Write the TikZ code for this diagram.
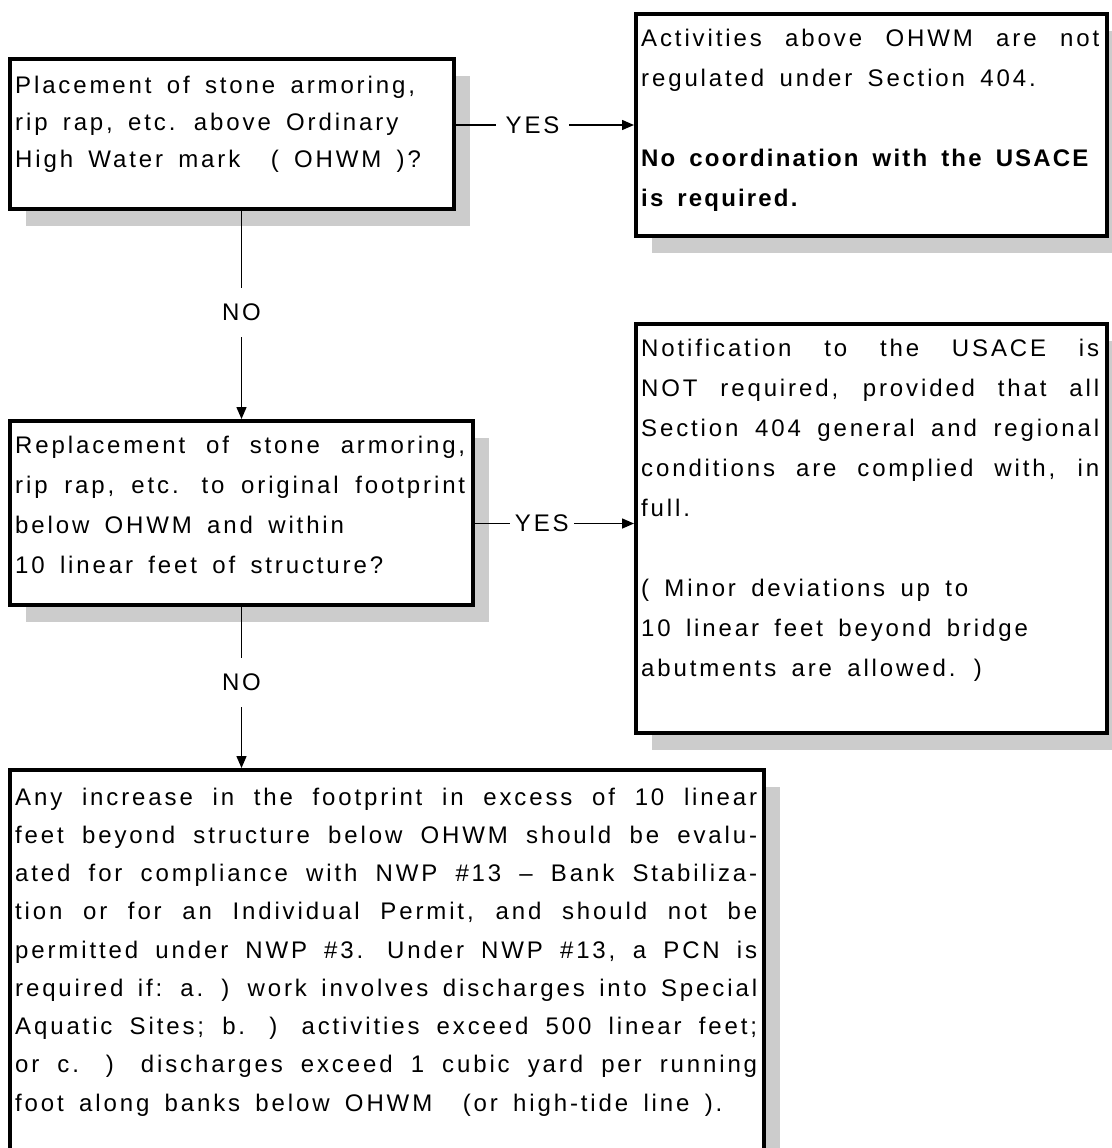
\documentclass[tikz,border=0pt]{standalone}
\usepackage{fontspec}
\setmainfont{Liberation Sans}[LetterSpace=12, WordSpace=1.6, BoldFeatures={LetterSpace=9}]
\usetikzlibrary{arrows.meta,shadows,positioning}

\tikzset{
  flowbox/.style={draw, line width=4pt, fill=white, anchor=north west, inner sep=0pt,
    drop shadow={shadow xshift=16pt, shadow yshift=-17pt, fill=black!20, opacity=1}},
  boxtext/.style={anchor=north west, inner xsep=7pt, inner ysep=16.5pt, align=justify,
    font=\fontsize{24}{40}\selectfont},
  conn/.style={line width=1.5pt},
  arr/.style={conn, -{Triangle[length=12pt,width=10pt]}},
  lbl/.style={fill=white, inner xsep=10pt, inner ysep=16pt, font=\fontsize{24}{28}\selectfont}
}

\begin{document}
\begin{tikzpicture}[x=1pt,y=-1pt]
\useasboundingbox (0,0) rectangle (1111,1148);
\fill[white] (0,0) rectangle (1111,1148);

% question boxes
\node[flowbox, minimum width=444pt, minimum height=150pt] (q1) at (8,57) {};
\node[flowbox, minimum width=463pt, minimum height=184pt] (q2) at (8,419) {};
% answer boxes
\node[flowbox, minimum width=471pt, minimum height=222pt] (a1) at (634,12) {};
\node[flowbox, minimum width=471pt, minimum height=409pt] (a2) at (634,322) {};
\node[flowbox, minimum width=754pt, minimum height=384pt] (a3) at (8,768) {};

% texts
\node[boxtext, text width=430pt, inner ysep=18.5pt, font=\fontsize{24}{37}\selectfont] (q1t) at (q1.north west)
  {Placement of stone armoring,\\ rip rap, etc. above Ordinary\\ High Water mark~~(~OHWM~)?};
\node[boxtext, text width=450pt] (q2t) at (q2.north west)
  {Replacement of stone armoring, \linebreak rip rap, etc. to original footprint \linebreak below OHWM and within\\ 10 linear feet of structure?};
\node[boxtext, text width=458pt] (a1t) at (a1.north west)
  {Activities above OHWM are not \linebreak regulated under Section 404.\\ \mbox{}\\
   \textbf{No coordination with the USACE}\\ \textbf{is required.}};
\node[boxtext, text width=458pt] (a2t) at (a2.north west)
  {Notification to the USACE is \linebreak NOT required, provided that all \linebreak
   Section 404 general and regional \linebreak conditions are complied with, in \linebreak
   full.\\ \mbox{}\\ ( Minor deviations up to\\ 10 linear feet beyond bridge\\ abutments are allowed. )};
\node[boxtext, text width=742pt, inner ysep=19.5pt, font=\fontsize{24}{38.25}\selectfont] (a3t) at (a3.north west)
  {Any increase in the footprint in excess of 10 linear \linebreak
   feet beyond structure below OHWM should be evalu- \linebreak
   ated for compliance with NWP \#13 – Bank Stabiliza- \linebreak
   tion or for an Individual Permit, and should not be \linebreak
   permitted under NWP \#3. Under NWP \#13, a PCN is \linebreak
   required if: a. ) work involves discharges into Special \linebreak
   Aquatic Sites; b. ) activities exceed 500 linear feet; \linebreak
   or c. ) discharges exceed 1 cubic yard per running \linebreak
   foot along banks below OHWM~ (or high-tide line ).};

% connectors
\coordinate (y2) at ([yshift=5pt]a2.west);
\draw[arr] (q1.east |- a1.west) -- node[lbl, pos=0.43] {YES} (a1.west);
\draw[arr] (q2.east |- y2) -- node[lbl, pos=0.42, inner xsep=5pt] {YES} (y2);
\draw[arr] (q1.south -| q2.north) -- node[lbl, pos=0.486] {NO} (q2.north);
\draw[arr] (q2.south) -- node[lbl, pos=0.467] {NO} (a3.north -| q2.south);
\end{tikzpicture}
\end{document}
